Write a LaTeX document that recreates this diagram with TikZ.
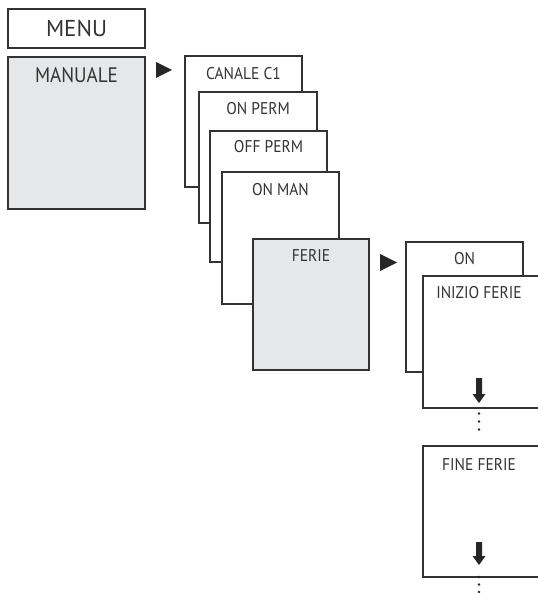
\documentclass[tikz,border=0pt]{standalone}
\usepackage{fontspec}
\setmainfont{PT Sans}
\newfontfamily\condfont[FakeStretch=0.91]{PT Sans}
\definecolor{linec}{HTML}{333333}
\definecolor{boxgray}{HTML}{E6E7E8}
\begin{document}
\begin{tikzpicture}[x=1pt,y=-1pt,
  box/.style={draw=linec,line width=1.1pt,fill=white,rectangle,anchor=north west,inner sep=0pt,outer sep=0pt},
  graybox/.style={box,fill=boxgray},
  lbl/.style={text=linec,font=\condfont\fontsize{17}{17}\selectfont,inner sep=0pt},
  midlbl/.style={text=linec,font=\condfont\fontsize{21}{21}\selectfont,inner sep=0pt},
  biglbl/.style={text=linec,font=\fontsize{23}{23}\selectfont,inner sep=0pt},
  tri/.style={fill=black!85,draw=none},
  dnarrow/.style={fill=black!85,draw=none},
  dot/.style={circle,fill=black!85,inner sep=0pt,minimum size=2.6pt}]
\useasboundingbox (0,0) rectangle (537,593);
% MENU
\node[box,minimum width=137pt,minimum height=39pt] (menu) at (8,9) {};
\node[biglbl] (menut) at (76.5,28.5) {MENU};
% MANUALE
\node[graybox,minimum width=137pt,minimum height=152pt] (manuale) at (8,57) {};
\node[midlbl] (manualet) at (76.5,75) {MANUALE};
\fill[tri] (156,62) -- (172,70) -- (156,78) -- cycle;
% stack 1
\node[box,minimum width=117pt,minimum height=131pt] (canale) at (185,56) {};
\node[lbl] at (243.5,74) {CANALE C1};
\node[box,minimum width=118pt,minimum height=131pt] (onperm) at (199,92) {};
\node[lbl] at (258,109) {ON PERM};
\node[box,minimum width=117pt,minimum height=131pt] (offperm) at (210,131) {};
\node[lbl] at (268.5,147) {OFF PERM};
\node[box,minimum width=117pt,minimum height=132pt] (onman) at (222,172) {};
\node[lbl] at (280.5,190) {ON MAN};
\node[graybox,minimum width=116pt,minimum height=131pt] (ferie) at (253,239) {};
\node[lbl] at (311,255) {FERIE};
\fill[tri] (380,254) -- (397,262.5) -- (380,271) -- cycle;
% stack 2
\node[box,minimum width=117pt,minimum height=130pt] (on) at (406,242) {};
\node[lbl] at (464.5,259) {ON};
\node[box,minimum width=130pt,minimum height=132pt] (inizio) at (423,276) {};
\node[lbl] at (479,293) {INIZIO FERIE};
\fill[dnarrow] (476,378) -- (482,378) -- (482,394) -- (485.5,394) -- (479,403) -- (472.5,394) -- (476,394) -- cycle;
\node[dot] at (479,413.5) {};
\node[dot] at (479,421.5) {};
\node[dot] at (479,429.5) {};
\node[box,minimum width=130pt,minimum height=131pt] (fine) at (423,446) {};
\node[lbl] at (479,465) {FINE FERIE};
\fill[dnarrow] (476,542) -- (482,542) -- (482,556) -- (485.5,556) -- (479,565) -- (472.5,556) -- (476,556) -- cycle;
\node[dot] at (479,577) {};
\node[dot] at (479,584.5) {};
\node[dot] at (479,592) {};
\end{tikzpicture}
\end{document}
